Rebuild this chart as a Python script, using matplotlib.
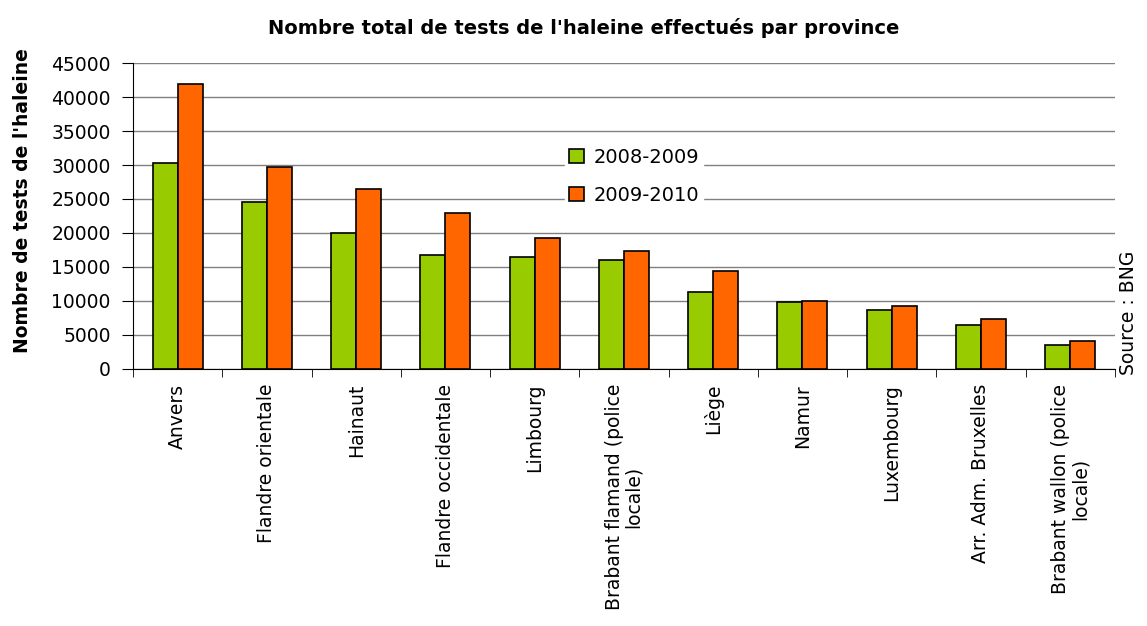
import numpy as np
import matplotlib.pyplot as plt

plt.rcParams['font.family'] = ['DejaVu Sans']

# Données
provinces = ['Anvers', 'Flandre orientale', 'Hainaut', 'Flandre occidentale', 'Limbourg',
             'Brabant flamand (police\nlocale)', 'Liège', 'Namur', 'Luxembourg',
             'Arr. Adm. Bruxelles', 'Brabant wallon (police\nlocale)']
tests_2008_2009 = [30300, 24600, 20000, 16800, 16500, 16000, 11300, 9800, 8700, 6500, 3500]
tests_2009_2010 = [42000, 29700, 26500, 22900, 19300, 17300, 14400, 10000, 9200, 7300, 4100]

fig = plt.figure(figsize=(11.47, 6.26), dpi=100)
ax = fig.add_axes([0.116, 0.411, 0.856, 0.488])

x = np.arange(len(provinces))
w = 0.28
ax.bar(x - w / 2, tests_2008_2009, w, color='#99CC00', edgecolor='black', linewidth=1.2,
       label='2008-2009', zorder=3)
ax.bar(x + w / 2, tests_2009_2010, w, color='#FF6600', edgecolor='black', linewidth=1.2,
       label='2009-2010', zorder=3)

ax.set_xlim(-0.5, len(provinces) - 0.5)
ax.set_ylim(0, 45000)
ax.set_yticks(np.arange(0, 45001, 5000))
ax.yaxis.grid(True, color='#808080', linewidth=1, zorder=0)
ax.tick_params(axis='y', labelsize=13.5, length=8, direction='out', pad=8)

# labels au centre, graduations entre catégories
ax.set_xticks(x)
ax.set_xticklabels(provinces, rotation=90, fontsize=13.5, va='top', ha='center',
                   linespacing=1.0)
ax.tick_params(axis='x', which='major', length=0, pad=11)
ax.set_xticks(np.arange(-0.5, len(provinces), 1), minor=True)
ax.tick_params(axis='x', which='minor', length=6, direction='out')

for side in ['top', 'right']:
    ax.spines[side].set_visible(False)
ax.spines['left'].set_color('black')
ax.spines['bottom'].set_color('black')

ax.set_ylabel("Nombre de tests de l'haleine", fontsize=13.5, fontweight='bold')
ax.yaxis.set_label_coords(-0.103, 0.55)
fig.text(0.509, 0.955, "Nombre total de tests de l'haleine effectués par province",
         fontsize=14, fontweight='bold', ha='center', va='center')

leg = ax.legend(loc='upper left', bbox_to_anchor=(0.44, 0.735), fontsize=14, frameon=True,
                edgecolor='white', fancybox=False, framealpha=1, handlelength=0.75,
                handleheight=0.75, handletextpad=0.5, labelspacing=0.95, borderpad=0.2,
                borderaxespad=0)
leg.set_zorder(5)

fig.text(0.984, 0.50, 'Source : BNG', rotation=90, fontsize=13.5, ha='center', va='center')

plt.savefig('out.png', dpi=100)
